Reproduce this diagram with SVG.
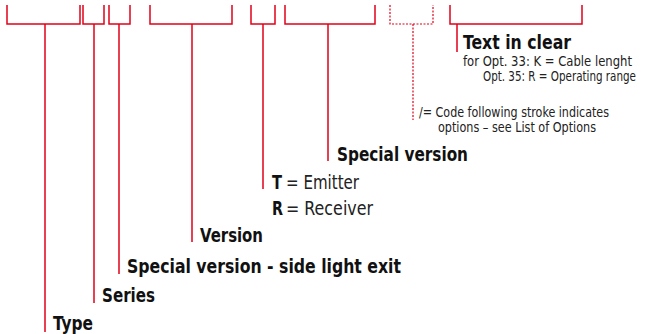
<svg xmlns="http://www.w3.org/2000/svg" width="645" height="334" viewBox="0 0 645 334">
<style>
.ln{fill:none;stroke:#e2001a;stroke-width:1.5}
.dt{fill:none;stroke:#e2001a;stroke-width:1.2;stroke-dasharray:2 1.5}
.b{font-family:"DejaVu Sans Condensed","Liberation Sans",sans-serif;font-weight:bold;font-size:20px;fill:#111}
.r{font-family:"DejaVu Sans Condensed","Liberation Sans",sans-serif;font-size:19.5px;fill:#222}
.s{font-family:"DejaVu Sans Condensed","Liberation Sans",sans-serif;font-size:13.5px;fill:#222}
</style>
<rect width="645" height="334" fill="#fff"/>
<g id="connectors">
<path class="ln" d="M7,5V24H80V5M45,24V332"/>
<path class="ln" d="M83,5V24H104V5M94,24V303"/>
<path class="ln" d="M109,5V24H130V5M119,24V274"/>
<path class="ln" d="M150,5V24H232V5M192,24V242"/>
<path class="ln" d="M251,5V24H275V5M263,24V189"/>
<path class="ln" d="M285,5V24H375V5M328,24V161"/>
<path class="dt" d="M390,5V24H433V5M413,24V120"/>
<path class="ln" d="M582,5V24H450V5M457,24V52"/>
</g>
<g id="type"><text class="b" x="53" y="330" textLength="40" lengthAdjust="spacingAndGlyphs">Type</text></g>
<g id="series"><text class="b" x="102" y="302" textLength="53" lengthAdjust="spacingAndGlyphs">Series</text></g>
<g id="side"><text class="b" x="127" y="273" textLength="274" lengthAdjust="spacingAndGlyphs">Special version - side light exit</text></g>
<g id="version"><text class="b" x="200" y="242" textLength="63" lengthAdjust="spacingAndGlyphs">Version</text></g>
<g id="emitter">
<text class="b" x="272" y="189" textLength="10" lengthAdjust="spacingAndGlyphs">T</text>
<text class="r" x="286" y="189" textLength="73" lengthAdjust="spacingAndGlyphs">= Emitter</text>
<text class="b" x="272" y="215" textLength="11" lengthAdjust="spacingAndGlyphs">R</text>
<text class="r" x="286" y="215" textLength="87" lengthAdjust="spacingAndGlyphs">= Receiver</text>
</g>
<g id="special"><text class="b" x="337" y="161" textLength="131" lengthAdjust="spacingAndGlyphs">Special version</text></g>
<g id="options"><text class="s" x="419" y="117" textLength="190" lengthAdjust="spacingAndGlyphs">/= Code following stroke indicates</text><text class="s" x="438" y="132" textLength="158" lengthAdjust="spacingAndGlyphs">options – see List of Options</text></g>
<g id="clear">
<text class="b" x="463" y="49" font-size="19" textLength="108" lengthAdjust="spacingAndGlyphs">Text in clear</text>
<text class="s" x="463" y="65.5" textLength="169" lengthAdjust="spacingAndGlyphs">for Opt. 33: K = Cable lenght</text>
<text class="s" transform="translate(483,80.5) scale(0.85,1)" x="0" y="0" textLength="180" lengthAdjust="spacingAndGlyphs">Opt. 35: R = Operating range</text>
</g>
</svg>
